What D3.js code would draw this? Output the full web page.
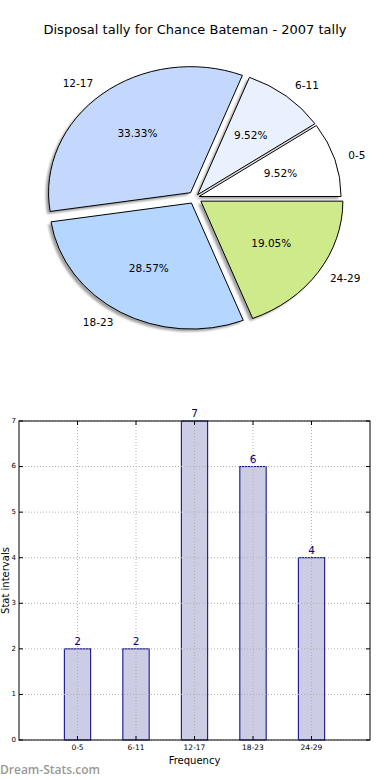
<!DOCTYPE html>
<html>
<head>
<meta charset="utf-8">
<script src="https://cdn.jsdelivr.net/npm/d3@7"></script>
<style>
  body { margin: 0; background: #fff; }
  svg { display: block; font-family: "DejaVu Sans", sans-serif; }
</style>
</head>
<body>
<div id="chart"></div>
<script>
// data
var categories = ["0-5", "6-11", "12-17", "18-23", "24-29"];
var counts = [2, 2, 7, 6, 4];
var sliceColors = ["#ffffff", "#eaf1fe", "#c4d8fe", "#b5d6ff", "#cfea8a"];
var explode = [0.03, 0.03, 0.05, 0.05, 0.05];
var yTicks = [0, 1, 2, 3, 4, 5, 6, 7];
var titleText = "Disposal tally for Chance Bateman - 2007 tally";

var W = 390, H = 780;
var svg = d3.select("#chart").append("svg").attr("width", W).attr("height", H);

var defs = svg.append("defs");
defs.append("filter").attr("id", "blur")
  .attr("x", "-10%").attr("y", "-10%").attr("width", "120%").attr("height", "120%")
  .append("feGaussianBlur").attr("stdDeviation", 0.9);

// ---------- pie ----------
svg.append("text")
  .attr("x", 195).attr("y", 30)
  .attr("text-anchor", "middle").attr("dominant-baseline", "middle")
  .style("font-size", "13px").style("fill", "#000")
  .text(titleText);

var cx = 195, cy = 197.6, rx = 142, ry = 126;
var total = d3.sum(counts);

// matplotlib starts at 3 o'clock and goes counterclockwise
var pie = d3.pie().sort(null).startAngle(Math.PI / 2).endAngle(Math.PI / 2 - 2 * Math.PI);
var arcs = pie(counts);
var arc = d3.arc().innerRadius(0).outerRadius(1);

function mid(d) { return (d.startAngle + d.endAngle) / 2; }
function offset(d, k) {
  var a = mid(d);
  return [cx + k * rx * Math.sin(a), cy - k * ry * Math.cos(a)];
}

var pieG = svg.append("g");

// shadows under all wedges
var shadowG = pieG.append("g").attr("filter", "url(#blur)").style("opacity", 0.55);
shadowG.selectAll("g")
  .data(arcs).enter().append("g")
  .attr("transform", function (d, i) {
    var p = offset(d, explode[i]);
    return "translate(" + (p[0] - 0.02 * rx) + "," + (p[1] + 0.02 * ry) + ")";
  })
  .append("path")
  .attr("d", arc)
  .attr("transform", "scale(" + rx + "," + ry + ")")
  .style("fill", "#555");

pieG.selectAll("path.wedge")
  .data(arcs).enter().append("path")
  .attr("class", "wedge")
  .attr("d", arc)
  .attr("transform", function (d, i) {
    var p = offset(d, explode[i]);
    return "translate(" + p[0] + "," + p[1] + ") scale(" + rx + "," + ry + ")";
  })
  .style("fill", function (d, i) { return sliceColors[i]; })
  .style("stroke", "#000")
  .style("stroke-width", 1)
  .attr("vector-effect", "non-scaling-stroke");

// percentages
pieG.selectAll("text.pct")
  .data(arcs).enter().append("text")
  .attr("class", "pct")
  .attr("x", function (d, i) { return offset(d, 0.6 + explode[i])[0]; })
  .attr("y", function (d, i) { return offset(d, 0.6 + explode[i])[1]; })
  .attr("text-anchor", "middle").attr("dominant-baseline", "middle")
  .style("font-size", "10.5px")
  .text(function (d) { return d3.format(".2f")(d.data / total * 100) + "%"; });

// category labels
pieG.selectAll("text.lbl")
  .data(arcs).enter().append("text")
  .attr("class", "lbl")
  .attr("x", function (d, i) { return offset(d, 1.1 + explode[i])[0]; })
  .attr("y", function (d, i) { return offset(d, 1.1 + explode[i])[1]; })
  .attr("text-anchor", function (d) { return Math.sin(mid(d)) > 0 ? "start" : "end"; })
  .attr("dominant-baseline", "middle")
  .style("font-size", "10.5px")
  .text(function (d, i) { return categories[i]; });

// ---------- bar chart ----------
var pL = 19, pR = 370, pT = 421, pB = 740;
var x = d3.scaleLinear().domain([0, categories.length + 1]).range([pL, pR]);
var y = d3.scaleLinear().domain([0, 7]).range([pB, pT]);
var barW = 0.45;

var barG = svg.append("g");

barG.selectAll("rect.bar")
  .data(counts).enter().append("rect")
  .attr("class", "bar")
  .attr("x", function (d, i) { return x(i + 1 - barW / 2); })
  .attr("width", x(barW) - x(0))
  .attr("y", function (d) { return y(d); })
  .attr("height", function (d) { return y(0) - y(d); })
  .style("fill", "#cccce4")
  .style("stroke", "#000080")
  .style("stroke-width", 1);

// dotted grid on top of bars
barG.selectAll("line.vgrid")
  .data(categories).enter().append("line")
  .attr("x1", function (d, i) { return x(i + 1); }).attr("x2", function (d, i) { return x(i + 1); })
  .attr("y1", pT).attr("y2", pB)
  .style("stroke", "#b0b0b0").style("stroke-dasharray", "1,2");
barG.selectAll("line.hgrid")
  .data(yTicks).enter().append("line")
  .attr("x1", pL).attr("x2", pR)
  .attr("y1", function (d) { return y(d); }).attr("y2", function (d) { return y(d); })
  .style("stroke", "#b0b0b0").style("stroke-dasharray", "1,2");

// value labels
barG.selectAll("text.val")
  .data(counts).enter().append("text")
  .attr("x", function (d, i) { return x(i + 1); })
  .attr("y", function (d) { return y(d) - 4; })
  .attr("text-anchor", "middle")
  .style("font-size", "10.5px").style("fill", "#000080")
  .text(function (d) { return d; });

// frame
barG.append("rect")
  .attr("x", pL).attr("y", pT)
  .attr("width", pR - pL).attr("height", pB - pT)
  .style("fill", "none").style("stroke", "#000").style("stroke-width", 1);

// ticks (inside, on both sides)
barG.selectAll("line.ytl").data(yTicks).enter().append("line")
  .attr("x1", pL).attr("x2", pL + 4)
  .attr("y1", function (d) { return y(d); }).attr("y2", function (d) { return y(d); })
  .style("stroke", "#000");
barG.selectAll("line.ytr").data(yTicks).enter().append("line")
  .attr("x1", pR - 4).attr("x2", pR)
  .attr("y1", function (d) { return y(d); }).attr("y2", function (d) { return y(d); })
  .style("stroke", "#000");
barG.selectAll("line.xtb").data(categories).enter().append("line")
  .attr("x1", function (d, i) { return x(i + 1); }).attr("x2", function (d, i) { return x(i + 1); })
  .attr("y1", pB).attr("y2", pB - 4)
  .style("stroke", "#000");
barG.selectAll("line.xtt").data(categories).enter().append("line")
  .attr("x1", function (d, i) { return x(i + 1); }).attr("x2", function (d, i) { return x(i + 1); })
  .attr("y1", pT).attr("y2", pT + 4)
  .style("stroke", "#000");

barG.selectAll("text.ytick").data(yTicks).enter().append("text")
  .attr("x", pL - 3).attr("y", function (d) { return y(d); })
  .attr("text-anchor", "end").attr("dominant-baseline", "middle")
  .style("font-size", "7px")
  .text(function (d) { return d; });
barG.selectAll("text.xtick").data(categories).enter().append("text")
  .attr("x", function (d, i) { return x(i + 1); }).attr("y", pB + 8)
  .attr("text-anchor", "middle").attr("dominant-baseline", "middle")
  .style("font-size", "7.5px")
  .text(function (d) { return d; });

svg.append("text")
  .attr("x", (pL + pR) / 2).attr("y", 761)
  .attr("text-anchor", "middle").attr("dominant-baseline", "middle")
  .style("font-size", "10px")
  .text("Frequency");
svg.append("text")
  .attr("transform", "translate(5.5," + ((pT + pB) / 2) + ") rotate(-90)")
  .attr("text-anchor", "middle").attr("dominant-baseline", "middle")
  .style("font-size", "10px")
  .text("Stat intervals");

svg.append("text")
  .attr("x", 0).attr("y", 771)
  .attr("dominant-baseline", "middle")
  .style("font-family", "'Open Sans', sans-serif")
  .style("font-weight", 600)
  .style("font-size", "12px").style("fill", "#999")
  .text("Dream-Stats.com");
</script>
</body>
</html>
